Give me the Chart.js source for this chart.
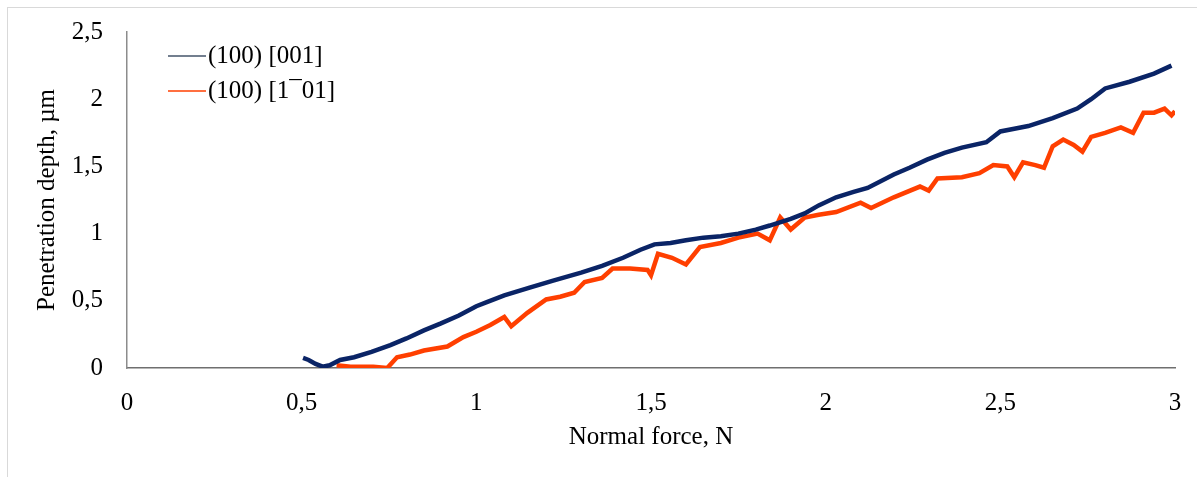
<!DOCTYPE html>
<html>
<head>
<meta charset="utf-8">
<script src="https://cdn.jsdelivr.net/npm/chart.js@4/dist/chart.umd.min.js"></script>
<style>
  html, body { margin: 0; padding: 0; background: #fff; }
  #wrap { position: relative; width: 1197px; height: 477px; }
  #frame { position: absolute; left: 7px; top: 7px; width: 1190px; height: 470px;
           border-top: 1px solid #d9d9d9; border-left: 1px solid #d9d9d9; pointer-events: none; }
</style>
</head>
<body>
<div id="wrap">
  <canvas id="myChart" width="1197" height="477"></canvas>
  <div id="frame"></div>
</div>
<script>
// values
const seriesNames = ['(100) [001]', '(100) [1\u00AF01]'];

const blueForce = [0.504, 0.52, 0.54, 0.56, 0.58, 0.61, 0.65, 0.70, 0.754, 0.80, 0.85, 0.897, 0.95, 1.00, 1.03,
  1.08, 1.155, 1.22, 1.30, 1.36, 1.42, 1.47, 1.51, 1.556, 1.60, 1.65, 1.70, 1.75, 1.80, 1.84, 1.90, 1.94,
  1.98, 2.03, 2.08, 2.12, 2.195, 2.24, 2.29, 2.34, 2.39, 2.46, 2.50, 2.54, 2.58, 2.65, 2.72, 2.76, 2.80,
  2.87, 2.94, 2.99];
const blueDepth = [0.075, 0.06, 0.03, 0.01, 0.02, 0.06, 0.08, 0.12, 0.17, 0.22, 0.28, 0.33, 0.39, 0.46, 0.49,
  0.54, 0.60, 0.65, 0.71, 0.76, 0.82, 0.88, 0.92, 0.93, 0.95, 0.97, 0.98, 1.00, 1.03, 1.06, 1.11, 1.15,
  1.21, 1.27, 1.31, 1.34, 1.44, 1.49, 1.55, 1.60, 1.64, 1.68, 1.76, 1.78, 1.80, 1.86, 1.93, 2.00, 2.08,
  2.13, 2.19, 2.25];

const redForce = [0.60, 0.64, 0.705, 0.745, 0.773, 0.81, 0.85, 0.917, 0.963, 1.00, 1.04, 1.08, 1.10, 1.146,
  1.20, 1.24, 1.28, 1.31, 1.36, 1.39, 1.44, 1.49, 1.50, 1.52, 1.56, 1.60, 1.64, 1.70, 1.75, 1.805, 1.84,
  1.87, 1.90, 1.94, 1.98, 2.03, 2.10, 2.13, 2.195, 2.27, 2.295, 2.32, 2.39, 2.44, 2.48, 2.52, 2.54, 2.565,
  2.60, 2.625, 2.65, 2.68, 2.71, 2.735, 2.76, 2.80, 2.845, 2.88, 2.91, 2.94, 2.97, 2.99, 3.00];
const redDepth = [0.02, 0.01, 0.01, 0.00, 0.08, 0.10, 0.13, 0.16, 0.23, 0.27, 0.32, 0.38, 0.31, 0.41,
  0.51, 0.53, 0.56, 0.64, 0.67, 0.74, 0.74, 0.73, 0.69, 0.85, 0.82, 0.77, 0.90, 0.93, 0.97, 1.00, 0.95,
  1.12, 1.03, 1.12, 1.14, 1.16, 1.23, 1.19, 1.27, 1.35, 1.32, 1.41, 1.42, 1.45, 1.51, 1.50, 1.42, 1.53,
  1.51, 1.49, 1.65, 1.70, 1.66, 1.61, 1.72, 1.75, 1.79, 1.75, 1.90, 1.90, 1.93, 1.88, 1.91];

const xTicks = [0, 0.5, 1, 1.5, 2, 2.5, 3];
const yTicks = [0, 0.5, 1, 1.5, 2, 2.5];

const serif = 'Liberation Serif, Times New Roman, serif';

function pairs(xs, ys) {
    return xs.map((x, i) => ({ x: x, y: ys[i] }));
}
function comma(v) {
    return String(v).replace('.', ',');
}

// legend drawn inside the plot, top left
const insideLegend = {
    id: 'insideLegend',
    afterDraw(chart) {
        const ctx = chart.ctx;
        ctx.save();
        ctx.font = '25px ' + serif;
        ctx.textBaseline = 'middle';
        chart.data.datasets.forEach((ds, i) => {
            const y = 56 + i * 35;
            ctx.strokeStyle = ds.legendColor;
            ctx.lineWidth = 1.5;
            ctx.beginPath();
            ctx.moveTo(168, y);
            ctx.lineTo(206, y);
            ctx.stroke();
            ctx.fillStyle = '#000';
            ctx.fillText(ds.label, 208, y);
        });
        ctx.restore();
    }
};

const ctx = document.getElementById('myChart');
new Chart(ctx, {
    type: 'line',
    data: {
        datasets: [{
            label: seriesNames[0],
            data: pairs(blueForce, blueDepth),
            borderColor: '#0a2466',
            legendColor: '#44546a',
            borderWidth: 4.5,
            pointRadius: 0,
            tension: 0
        }, {
            label: seriesNames[1],
            data: pairs(redForce, redDepth),
            borderColor: '#ff3f00',
            legendColor: '#ff3f00',
            borderWidth: 4.5,
            pointRadius: 0,
            tension: 0
        }]
    },
    options: {
        responsive: false,
        animation: false,
        layout: { padding: { left: 0, right: 22, top: 32, bottom: 0 } },
        plugins: {
            legend: { display: false },
            tooltip: { enabled: false }
        },
        scales: {
            x: {
                type: 'linear',
                min: 0,
                max: 3,
                afterBuildTicks: (s) => { s.ticks = xTicks.map(v => ({ value: v })); },
                afterFit: (s) => { s.height = 109; s.paddingLeft = 0; s.paddingRight = 0; },
                grid: { display: false, drawTicks: false },
                border: { display: true, color: '#6f6f6f', width: 1.5 },
                ticks: {
                    padding: 20,
                    color: '#000',
                    font: { family: serif, size: 25 },
                    callback: (v) => comma(v)
                },
                title: {
                    display: true,
                    text: 'Normal force, N',
                    color: '#000',
                    font: { family: serif, size: 25 },
                    padding: { top: 0, bottom: 25 }
                }
            },
            y: {
                type: 'linear',
                min: 0,
                max: 2.5,
                afterBuildTicks: (s) => { s.ticks = yTicks.map(v => ({ value: v })); },
                afterFit: (s) => { s.width = 127; s.paddingTop = 0; s.paddingBottom = 0; },
                grid: { display: false, drawTicks: false },
                border: { display: true, color: '#8c8c8c', width: 1.5 },
                ticks: {
                    padding: 24,
                    color: '#000',
                    font: { family: serif, size: 25 },
                    callback: (v) => comma(v)
                },
                title: {
                    display: true,
                    text: 'Penetration depth, \u00B5m',
                    color: '#000',
                    font: { family: serif, size: 25 },
                    padding: { top: 32, bottom: 0 }
                }
            }
        }
    },
    plugins: [insideLegend]
});
</script>
</body>
</html>
